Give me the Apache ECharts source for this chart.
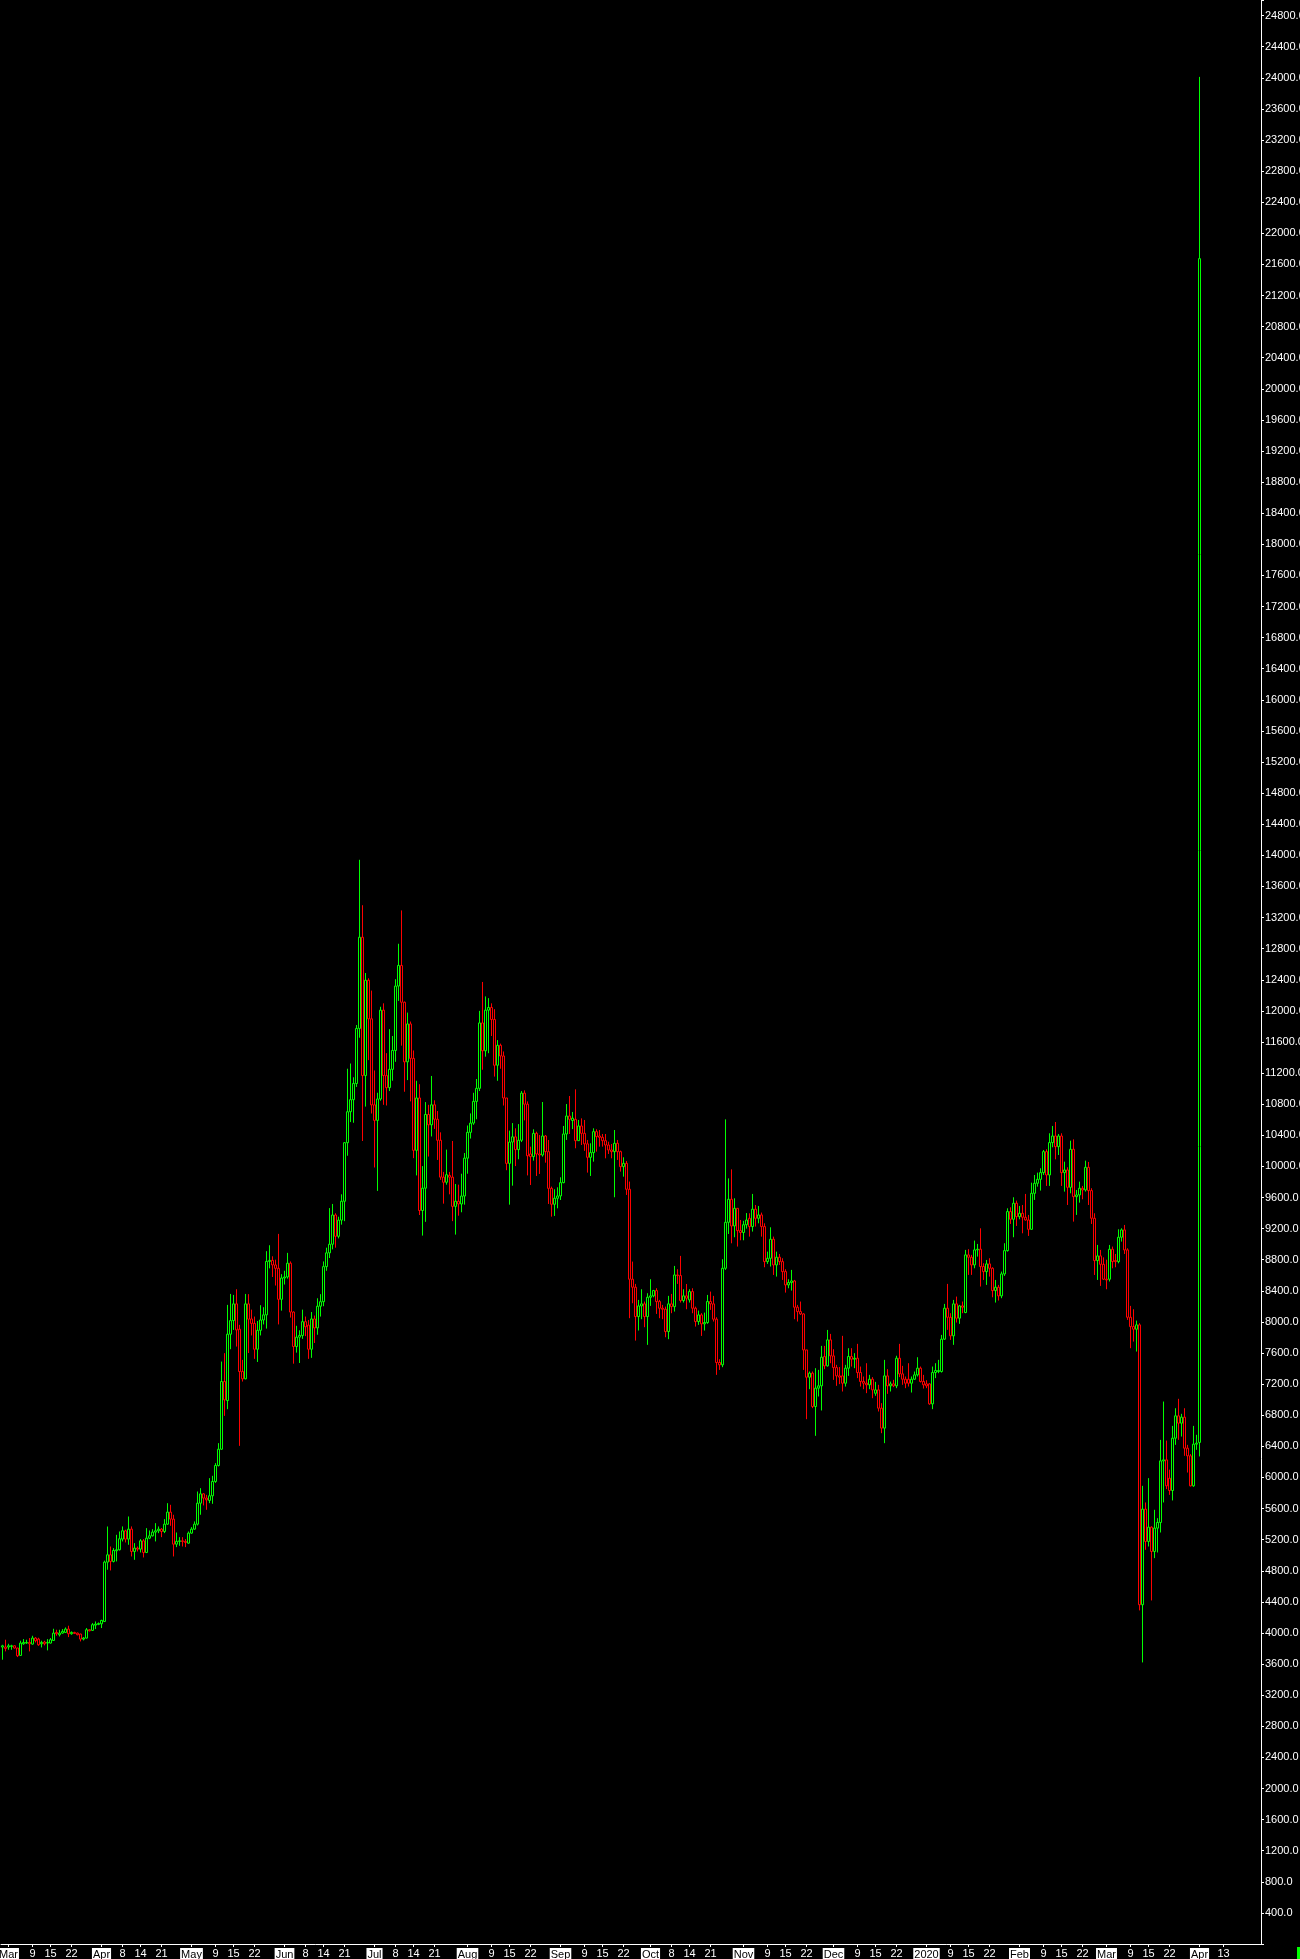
<!DOCTYPE html>
<html><head><meta charset="utf-8">
<script src="https://cdn.jsdelivr.net/npm/echarts@6/dist/echarts.min.js"></script>
<style>html,body{margin:0;padding:0;background:#000;overflow:hidden}#c{width:1300px;height:1959px;}</style>
</head><body><div id="c"></div>
<script>
// Daily bars, rows are [open, close, low, high]
const feb2019 = [[3819,3835,3656,3848],[3819,3801,3763,3913]];
const mar2019 = [[3819,3835,3784,3861],[3827,3835,3784,3848],[3835,3806,3801,3840],[3806,3707,3690,3810],[3711,3870,3705,3900],[3861,3878,3848,3921],[3870,3878,3860,3913],[3878,3861,3763,3934],[3857,3934,3850,3964],[3934,3900,3878,3947],[3921,3848,3835,3938],[3861,3878,3814,3900],[3883,3861,3840,3900],[3870,3878,3776,3921],[3870,3913,3865,3934],[3904,3998,3900,4054],[4007,3990,3964,4041],[3977,3998,3955,4041],[3998,4020,3990,4050],[4007,4050,4000,4071],[4050,3990,3947,4093],[3990,4007,3977,4020],[4007,3994,3990,4015],[3998,3977,3970,4005],[3986,3921,3891,3990],[3921,3934,3904,3947],[3934,4041,3930,4063],[4041,4028,4020,4050],[4033,4106,4028,4127],[4101,4114,4050,4148],[4110,4122,4100,4135]];
const apr2019 = [[4118,4161,4063,4170],[4148,4911,4140,4930],[4911,5005,4813,5369],[5005,4920,4804,5112],[4920,5061,4907,5091],[5057,5070,4920,5262],[5070,5211,5061,5305],[5207,5314,5177,5370],[5314,5207,5164,5327],[5207,5335,5134,5498],[5335,5048,4984,5370],[5048,5091,4941,5155],[5091,5078,5048,5112],[5078,5185,5035,5207],[5185,5035,4971,5207],[5035,5219,5027,5348],[5219,5249,5207,5318],[5249,5297,5241,5335],[5297,5314,5177,5412],[5314,5335,5284,5370],[5335,5305,5232,5348],[5305,5399,5284,5464],[5399,5554,5391,5669],[5554,5464,5378,5648],[5464,5142,4984,5520],[5142,5177,5104,5292],[5177,5185,5121,5232],[5185,5177,5112,5232],[5177,5164,5104,5207],[5155,5284,5147,5305]];
const may2019 = [[5284,5335,5275,5361],[5335,5399,5327,5434],[5399,5669,5382,5819],[5669,5789,5520,5862],[5789,5734,5640,5797],[5734,5712,5584,5776],[5704,5764,5669,5991],[5764,5948,5661,6021],[5948,6154,5930,6184],[6154,6363,6141,6441],[6363,7233,6355,7490],[7233,6998,6792,7598],[6989,7842,6878,8219],[7842,8017,7649,8360],[8017,8232,7897,8347],[8232,7897,7683,8420],[7906,7362,6406,7962],[7362,7268,7233,7512],[7268,8232,7263,8360],[8232,8035,7600,8357],[8038,7981,7826,8158],[7981,7649,7525,8069],[7649,7892,7485,8012],[7892,8025,7826,8215],[8025,8091,7968,8189],[8091,8778,7914,8910],[8778,8791,8689,8986],[8791,8733,8578,8844],[8733,8689,8468,8800],[8689,8291,7968,9132],[8291,8565,8145,8614]];
const jun2019 = [[8565,8578,8481,8658],[8578,8755,8556,8888],[8755,8127,8056,8778],[8127,7684,7463,8136],[7684,7804,7605,7950],[7804,7826,7472,7892],[7826,8003,7782,8158],[8003,7937,7817,8069],[7959,7649,7525,8025],[7649,8038,7538,8127],[8038,7923,7729,8082],[7923,8202,7835,8304],[8202,8260,8069,8357],[8260,8711,8202,8778],[8711,8888,8658,8955],[8888,8999,8822,9464],[8999,9375,8933,9517],[9375,9101,8955,9397],[9101,9309,9074,9353],[9309,9552,9251,9641],[9552,10305,9296,10313],[10305,10703,10137,11256],[10703,10858,10570,11323],[10858,11066,10561,11146],[11066,11774,11022,11818],[11774,12947,11655,13943],[12947,11168,10327,13359],[11168,12394,10769,12487],[12394,11898,11367,12420],[11898,10791,10680,12261]];
const jul2019 = [[10792,10592,9986,11234],[10592,10867,9685,10947],[10867,12009,10845,12053],[12009,11168,10792,12097],[11168,11013,10783,11456],[11013,11248,10969,11765],[11248,11491,11102,11677],[11491,12319,11345,12407],[12319,12584,12128,12863],[12584,12111,11553,13292],[12111,11345,10960,12120],[11345,11832,11110,11978],[11832,11389,10836,11863],[11389,10207,10106,11491],[10207,10880,9884,11101],[10880,9433,9375,11057],[9433,9720,9110,10004],[9720,10668,9287,10827],[10668,10535,10127,10792],[10535,10792,10385,11163],[10792,10606,10482,10850],[10606,10336,10083,10712],[10336,9862,9827,10438],[9862,9796,9521,9929],[9796,9893,9765,10216],[9884,9862,9641,9929],[9862,9486,9296,10327],[9486,9552,9123,9774],[9552,9517,9366,9765],[9517,9619,9410,9906],[9619,10106,9508,10172]];
const aug2019 = [[10106,10438,9906,10526],[10438,10557,10358,10681],[10557,10836,10535,10947],[10836,11004,10606,11124],[11004,11845,10969,12000],[11845,11487,11243,12372],[11487,12009,11411,12186],[12009,12044,11456,12164],[12044,11889,11677,12097],[11889,11301,11155,12022],[11301,11557,11101,11624],[11557,11420,11256,11579],[11420,10880,10783,11478],[10880,10039,9951,10880],[10039,10313,9508,10460],[10313,10380,9752,10557],[10380,10216,10004,10490],[10216,10336,10092,10544],[10336,10942,10313,10969],[10942,10800,10592,10978],[10800,10137,9884,10836],[10160,10126,9761,10254],[10126,10425,10074,10477],[10425,10160,9877,10447],[10160,10147,9903,10404],[10147,10391,10126,10828],[10391,10190,10048,10404],[10190,9718,9517,10340],[9718,9513,9354,9740],[9513,9590,9363,9706],[9590,9620,9461,9731]];
const sep2019 = [[9620,9791,9568,9860],[9791,10417,9783,10520],[10417,10648,10340,10802],[10648,10605,10417,10905],[10590,10620,10480,10700],[10605,10331,10233,10991],[10331,10520,10331,10597],[10520,10425,10275,10618],[10425,10290,10200,10597],[10290,10117,9920,10340],[10117,10177,9877,10297],[10177,10447,10061,10490],[10447,10383,10190,10477],[10391,10374,10254,10468],[10374,10331,10254,10417],[10331,10275,10104,10417],[10275,10211,10160,10318],[10211,10190,10104,10288],[10190,10297,9603,10468],[10297,10190,10083,10340],[10190,9997,9933,10203],[9997,10039,9868,10117],[10039,9706,9633,10070],[9706,8549,8048,9805],[8549,8446,8240,8776],[8446,8069,7760,8489],[8069,8206,7889,8283],[8206,8232,8035,8420],[8232,8069,7932,8262],[8069,8317,7705,8369]];
const oct2019 = [[8317,8335,8206,8549],[8335,8403,8317,8412],[8403,8262,8103,8433],[8262,8176,8048,8283],[8176,8163,8035,8219],[8163,7876,7803,8197],[7876,8232,7778,8335],[8232,8197,8112,8360],[8197,8604,8133,8720],[8604,8596,8489,8677],[8596,8275,8249,8849],[8275,8335,8249,8420],[8335,8305,8163,8488],[8283,8390,8249,8420],[8390,8176,8112,8433],[8176,8005,7940,8197],[8005,8090,7962,8146],[8090,7975,7820,8112],[7975,7992,7889,8120],[7992,8262,7975,8347],[8262,8232,8155,8390],[8232,8035,8005,8335],[8035,7478,7319,8060],[7478,7448,7383,7520],[7448,8690,7418,8806],[8690,9281,8669,10605],[9281,9577,9131,9846],[9577,9234,9011,9962],[9234,9461,9089,9590],[9461,9174,8969,9461],[9174,9150,9050,9311]];
const nov2019 = [[9150,9250,9050,9300],[9250,9310,9200,9400],[9333,9226,9097,9397],[9226,9449,9162,9646],[9449,9333,9226,9504],[9333,9376,9268,9491],[9376,9226,9097,9406],[9226,8776,8703,9268],[8776,8818,8746,8904],[8818,9063,8712,9217],[9063,8733,8604,9097],[8733,8832,8583,8904],[8832,8776,8733,8874],[8776,8647,8540,8819],[8647,8476,8377,8677],[8476,8506,8433,8549],[8506,8527,8403,8669],[8527,8189,8035,8540],[8189,8133,8005,8219],[8133,8103,8090,8262],[8103,7640,7383,8112],[7640,7289,6749,7640],[7289,7341,7135,7362],[7341,6912,6891,7362],[6912,7148,6535,7405],[7148,7178,7041,7383],[7178,7546,6861,7692],[7554,7435,7392,7692],[7435,7769,7426,7897],[7769,7563,7469,7846]];
const dec2019 = [[7563,7413,7255,7649],[7413,7306,7178,7448],[7306,7290,7200,7420],[7306,7212,7105,7821],[7212,7405,7169,7448],[7405,7555,7306,7662],[7555,7520,7426,7662],[7521,7533,7405,7598],[7533,7349,7277,7718],[7349,7234,7169,7426],[7234,7212,7135,7298],[7212,7191,7084,7469],[7191,7263,7135,7319],[7263,7126,7019,7290],[7083,7126,7050,7229],[7126,6891,6848,7191],[6891,6634,6569,6955],[6634,7306,6441,7512],[7306,7178,7075,7392],[7178,7203,7105,7233],[7203,7178,7161,7255],[7178,7533,7148,7565],[7533,7332,7290,7718],[7332,7263,7191,7435],[7263,7212,7148,7298],[7263,7212,7169,7469],[7212,7263,7092,7298],[7263,7319,7254,7362],[7319,7405,7298,7546],[7405,7234,7221,7426],[7234,7191,7143,7319]];
const jan2020 = [[7203,7178,7148,7250],[7203,6946,6934,7212],[6946,7349,6878,7426],[7349,7375,7277,7469],[7362,7375,7341,7512],[7362,7778,7349,7833],[7778,8176,7769,8232],[8176,8060,7898,8489],[8060,7821,7769,8112],[7821,8232,7705,8283],[8232,8048,7992,8326],[8048,8206,7975,8219],[8206,8189,8112,8262],[8121,8862,8112,8926],[8862,8832,8605,8935],[8832,8733,8605,8862],[8733,8926,8690,9046],[8926,8935,8840,9003],[8935,8712,8455,9204],[8712,8647,8540,8754],[8647,8746,8476,8797],[8746,8690,8583,8819],[8690,8403,8317,8703],[8403,8446,8249,8540],[8446,8335,8275,8476],[8335,8617,8305,8647],[8617,8917,8592,9012],[8917,9419,8904,9461],[9419,9320,9260,9474],[9320,9526,9089,9603],[9526,9354,9234,9560]];
const feb2020 = [[9354,9397,9320,9491],[9397,9346,9140,9504],[9346,9311,9303,9646],[9311,9191,9106,9376],[9191,9654,9183,9791],[9654,9783,9569,9890],[9783,9834,9740,9920],[9834,9920,9689,9976],[9920,10190,9890,10211],[10190,9890,9749,10220],[9890,10306,9749,10426],[10306,10391,10246,10520],[10391,10254,10091,10571],[10254,10391,10147,10417],[10391,9920,9749,10426],[9920,9954,9676,10061],[9954,9731,9504,9989],[9731,10220,9654,10331],[10220,9611,9290,10348],[9611,9633,9376,9697],[9633,9719,9534,9804],[9718,9697,9577,9749],[9697,9988,9676,10074],[9988,9689,9504,10057],[9689,9333,9260,9719],[9333,8789,8604,9397],[8789,8849,8540,8990],[8849,8741,8463,8926],[8741,8549,8540,8830]];
const mar2020 = [[8549,8540,8420,8800],[8549,8934,8520,8990],[8934,8776,8690,8969],[8789,8776,8703,8874],[8776,9089,8754,9191],[9089,9183,9033,9204],[9183,8926,8874,9247],[8926,8060,8026,8947],[8060,7940,7662,8206],[7940,7906,7747,8163],[7906,7962,7619,8017],[7962,4363,4290,7983],[4363,5592,3621,5892],[5592,5177,5070,5678],[5177,5361,5112,5991],[5361,5048,4418,5370],[5048,5348,4962,5584],[5348,5421,5035,5476],[5421,6213,5292,6483],[6213,6226,5678,6976],[6226,5892,5850,6474],[5990,5832,5776,6100],[5832,6505,5704,6663],[6505,6792,6419,6890],[6792,6698,6483,7011],[6698,6775,6526,6818],[6775,6376,6278,6890],[6376,6278,6063,6419],[6278,5892,5884,6300],[5892,6428,5880,6663],[6428,6441,6355,6548]];
const apr2020 = [[6450,21674,6270,24011]];

const firstBarDate = '2019-02-27';
const futureDates = ['2020-04-02','2020-04-03','2020-04-06','2020-04-07','2020-04-08','2020-04-09','2020-04-10','2020-04-13','2020-04-14','2020-04-15','2020-04-16','2020-04-17','2020-04-20','2020-04-21','2020-04-22','2020-04-23','2020-04-24','2020-04-27','2020-04-28','2020-04-29'];

const monthLabels = [['2019-03-01','Mar'],['2019-04-01','Apr'],['2019-05-01','May'],['2019-06-01','Jun'],['2019-07-01','Jul'],['2019-08-01','Aug'],['2019-09-01','Sep'],['2019-10-01','Oct'],['2019-11-01','Nov'],['2019-12-01','Dec'],['2020-01-01','2020'],['2020-02-01','Feb'],['2020-03-01','Mar'],['2020-04-01','Apr']];
const dayLabels = [['2019-03-09','9'],['2019-03-15','15'],['2019-03-22','22'],['2019-04-08','8'],['2019-04-14','14'],['2019-04-21','21'],['2019-05-09','9'],['2019-05-15','15'],['2019-05-22','22'],['2019-06-08','8'],['2019-06-14','14'],['2019-06-21','21'],['2019-07-08','8'],['2019-07-14','14'],['2019-07-21','21'],['2019-08-09','9'],['2019-08-15','15'],['2019-08-22','22'],['2019-09-09','9'],['2019-09-15','15'],['2019-09-22','22'],['2019-10-08','8'],['2019-10-14','14'],['2019-10-21','21'],['2019-11-09','9'],['2019-11-15','15'],['2019-11-22','22'],['2019-12-09','9'],['2019-12-15','15'],['2019-12-22','22'],['2020-01-09','9'],['2020-01-15','15'],['2020-01-22','22'],['2020-02-09','9'],['2020-02-15','15'],['2020-02-22','22'],['2020-03-09','9'],['2020-03-15','15'],['2020-03-22','22'],['2020-04-13','13']];

const bars = [].concat(feb2019, mar2019, apr2019, may2019, jun2019, jul2019, aug2019, sep2019, oct2019, nov2019, dec2019, jan2020, feb2020, mar2020, apr2020);

const cats = [];
const t0 = Date.parse(firstBarDate + 'T00:00:00Z');
for (let k = 0; k < bars.length; k++) cats.push(new Date(t0 + k * 86400000).toISOString().slice(0, 10));
const categories = cats.concat(futureDates);

const labelMap = {};
monthLabels.forEach(([d, t]) => labelMap[d] = {t, m: true});
dayLabels.forEach(([d, t]) => labelMap[d] = {t, m: false});
const hasLabel = (i, v) => labelMap[v] !== undefined;

const chart = echarts.init(document.getElementById('c'), null, {renderer: 'canvas'});
const font = '"Liberation Sans", Arial, sans-serif';
chart.setOption({
  backgroundColor: '#000',
  animation: false,
  grid: {left: 1, right: 39, top: 0, bottom: 15, containLabel: false, outerBoundsMode: 'none'},
  xAxis: {
    type: 'category',
    data: categories,
    boundaryGap: true,
    axisLine: {show: true, lineStyle: {color: '#fff', width: 1}},
    axisTick: {show: true, alignWithLabel: true, interval: hasLabel, length: 3, lineStyle: {color: '#fff'}},
    axisLabel: {
      interval: hasLabel, margin: 4, color: '#fff', fontSize: 11, fontFamily: font, hideOverlap: false,
      formatter: v => { const l = labelMap[v]; if (!l) return ''; return l.m ? '{m|' + l.t + '}' : l.t; },
      rich: {m: {backgroundColor: '#fff', color: '#000', fontSize: 11, fontFamily: font, padding: [1, 1, 0, 1]}}
    },
    splitLine: {show: false}
  },
  yAxis: {
    type: 'value', position: 'right', min: 0, max: 25000, interval: 400, scale: false,
    axisLine: {show: true, lineStyle: {color: '#fff', width: 1}},
    axisTick: {show: true, length: 3, lineStyle: {color: '#fff'}},
    axisLabel: {
      color: '#fff', fontSize: 11, fontFamily: font, margin: 4,
      formatter: v => (v > 0 && v < 25000 && v % 400 === 0) ? v.toFixed(1) : ''
    },
    splitLine: {show: false}
  },
  series: [{
    type: 'candlestick',
    data: bars,
    barWidth: 2,
    itemStyle: {color: '#000', color0: '#000', borderColor: '#00ff00', borderColor0: '#ff0000', borderWidth: 1}
  }],
  graphic: [{type: 'rect', left: 1297, top: 1947, shape: {width: 3, height: 12}, style: {fill: '#00ff00'}, silent: true}]
});
</script>
</body></html>
